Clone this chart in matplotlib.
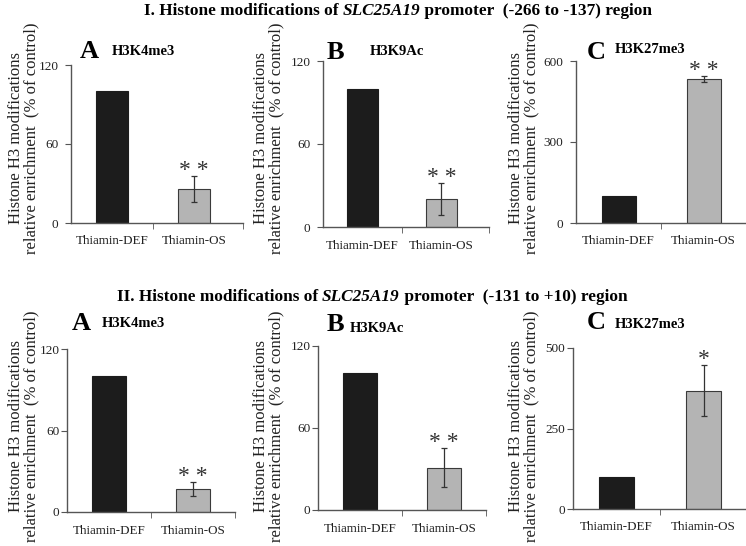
import matplotlib.pyplot as plt

plt.rcParams['font.family'] = ['Liberation Serif', 'DejaVu Serif']

# =========================
# data
# =========================
groups = ['Thiamin-DEF', 'Thiamin-OS']
marks = ['H3K4me3', 'H3K9Ac', 'H3K27me3']
letters = ['A', 'B', 'C']

r1_values = [[100, 26], [100, 20], [100, 534]]
r1_errors = [[0, 10], [0, 11.5], [0, 12]]
r1_ymax = [120, 120, 600]
r1_stars = ['**', '**', '**']

r2_values = [[100, 17], [100, 31], [100, 368]]
r2_errors = [[0, 5], [0, 14.5], [0, 78]]
r2_ymax = [120, 120, 500]
r2_stars = ['**', '**', '*']

W, H = 746, 546
fig = plt.figure(figsize=(W / 100, H / 100), dpi=100)


def px_axes(left, half, top, bottom, xmax):
    right = left + half * (xmax + 0.5)
    return fig.add_axes([left / W, 1 - bottom / H,
                         (right - left) / W, (bottom - top) / H])


def draw_panel(ax, values, errors, ymax, star, xmax, ypad):
    ax.bar([0, 1], values, width=0.4,
           color=['#1c1c1c', '#b4b4b4'],
           edgecolor=['#1c1c1c', '#3a3a3a'], linewidth=0.8, zorder=2)
    ax.errorbar([1], [values[1]], yerr=[errors[1]], fmt='none',
                ecolor='#333333', elinewidth=0.9, capsize=2.5,
                capthick=0.9, zorder=3)
    ax.annotate(star.replace('**', '* *'),
                xy=(1, values[1] + errors[1]), xytext=(0, 0),
                textcoords='offset points', ha='center', va='baseline',
                fontsize=17, color='#333333', annotation_clip=False)
    ax.set_xlim(-0.5, xmax)
    ax.set_ylim(0, ymax)
    ax.set_yticks([0, ymax / 2, ymax])
    ax.set_yticklabels([f'{int(t)}' for t in [0, ymax / 2, ymax]])
    ax.set_xticks([0, 1])
    ax.set_xticklabels(groups)
    ax.set_xticks([0.5, xmax], minor=True)
    ax.tick_params(axis='x', which='major', length=0, pad=9,
                   labelsize=9.4, labelcolor='#222222')
    ax.tick_params(axis='x', which='minor', length=4, color='#555555',
                   direction='out')
    ax.tick_params(axis='y', length=4, pad=ypad, labelsize=9.5,
                   color='#555555', labelcolor='#222222')
    for s in ['top', 'right']:
        ax.spines[s].set_visible(False)
    for s in ['left', 'bottom']:
        ax.spines[s].set_color('#555555')
        ax.spines[s].set_linewidth(1.0)
    ax.patch.set_alpha(0)


# pixel layout: y-axis x, px per category unit, top, zero line
row1 = [(71, 82, 65, 223), (323, 79, 61, 227), (576, 85, 61, 223)]
row2 = [(67, 84, 349, 512), (318, 84, 346, 510), (573, 87, 348, 509)]

label_x = [(16, 31), (261, 276), (516, 531)]
letter_pos1 = [(80, 58, 112, 55), (327, 59, 370, 55), (587, 59, 615, 53)]
letter_pos2 = [(72, 330, 102, 327), (327, 331, 350, 332), (587, 329, 615, 328)]

rows = [
    (row1, r1_values, r1_errors, r1_ymax, r1_stars, 1.6, 138, letter_pos1, 5),
    (row2, r2_values, r2_errors, r2_ymax, r2_stars, 1.5, 426, letter_pos2, 1.5),
]

for layout, vals, errs, ymaxs, stars, xmax, ylab_y, lpos, ypad in rows:
    for i in range(3):
        left, half, top, bottom = layout[i]
        ax = px_axes(left, half, top, bottom, xmax)
        draw_panel(ax, vals[i], errs[i], ymaxs[i], stars[i], xmax, ypad)

        x1, x2 = label_x[i]
        fig.text(x1 / W, 1 - ylab_y / H, 'Histone H3 modifications',
                 rotation=90, ha='center', va='center', fontsize=12,
                 color='#222222')
        fig.text(x2 / W, 1 - ylab_y / H, 'relative enrichment  (% of control)',
                 rotation=90, ha='center', va='center', fontsize=12,
                 color='#222222')

        lx, ly, mx, my = lpos[i]
        fig.text(lx / W, 1 - ly / H, letters[i], fontsize=19,
                 fontweight='bold', ha='left', va='baseline')
        fig.text(mx / W, 1 - my / H, marks[i], fontsize=10.5,
                 fontweight='bold', ha='left', va='baseline')


# =========================
# row titles (mixed bold / bold italic)
# =========================
renderer = fig.canvas.get_renderer()


def draw_title(pieces, cx, cy):
    texts = []
    for txt, style in pieces:
        t = fig.text(0, 1 - cy / H, txt, fontsize=12.4, fontweight='bold',
                     style=style, ha='left', va='center')
        texts.append(t)
    widths = [t.get_window_extent(renderer).width for t in texts]
    x = cx - sum(widths) / 2
    for t, w in zip(texts, widths):
        t.set_x(x / W)
        x += w


draw_title([('I. Histone modifications of ', 'normal'),
            ('SLC25A19', 'italic'),
            (' promoter  (-266 to -137) region', 'normal')], 398, 11)
draw_title([('II. Histone modifications of ', 'normal'),
            ('SLC25A19', 'italic'),
            (' promoter  (-131 to +10) region', 'normal')], 372, 297)

fig.savefig('out.png', dpi=100)
